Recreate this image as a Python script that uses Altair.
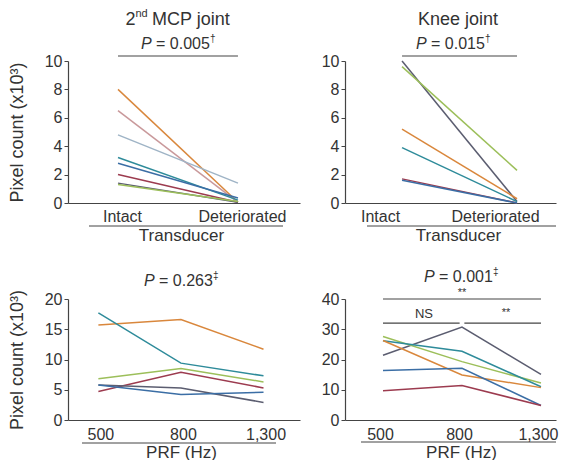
import altair as alt
import pandas as pd

FONT = "Liberation Sans"
TXT = "#333333"
AX = "#444444"

series = ["orange", "mauve", "lightblue", "teal", "blue", "maroon", "darkgray", "green"]
series_colors = ["#d9873c", "#c9999b", "#9fb4c6", "#2e8b9a", "#3b6ea5", "#9c3b4f", "#5b5d70", "#9cbf5a"]

# ---- Top-left: 2nd MCP joint (x10^3) ----
tl_labels = ["Intact", "Deteriorated"]
tl_orange = [8.0, 0.05]
tl_mauve = [6.5, 0.05]
tl_lightblue = [4.8, 1.4]
tl_teal = [3.2, 0.2]
tl_blue = [2.8, 0.35]
tl_maroon = [2.0, 0.05]
tl_darkgray = [1.4, 0.05]
tl_green = [1.3, 0.1]

# ---- Top-right: Knee joint ----
tr_labels = ["Intact", "Deteriorated"]
tr_darkgray = [10.0, 0.1]
tr_green = [9.6, 2.3]
tr_orange = [5.2, 0.3]
tr_teal = [3.9, 0.1]
tr_maroon = [1.7, 0.0]
tr_blue = [1.6, 0.0]

# ---- Bottom-left: PRF, MCP ----
bl_labels = ["500", "800", "1,300"]
bl_orange = [15.7, 16.6, 11.7]
bl_teal = [17.7, 9.4, 7.3]
bl_green = [6.8, 8.5, 6.3]
bl_maroon = [4.7, 7.9, 5.3]
bl_darkgray = [5.8, 5.3, 2.9]
bl_blue = [5.8, 4.2, 4.6]

# ---- Bottom-right: PRF, knee ----
br_labels = ["500", "800", "1,300"]
br_darkgray = [21.4, 30.7, 15.1]
br_green = [27.6, 19.3, 12.2]
br_teal = [26.2, 22.7, 11.0]
br_orange = [26.3, 14.9, 10.7]
br_blue = [16.4, 17.1, 4.8]
br_maroon = [9.7, 11.4, 4.8]

# significance brackets in bottom-right (x index from, x index to, y value)
br_sig_x1 = [0.0, 0.0, 1.03]
br_sig_x2 = [2.0, 0.97, 2.0]
br_sig_y = [40.0, 32.0, 32.0]


def long_df(d):
    rows = []
    for name, vals in d.items():
        for i, v in enumerate(vals):
            rows.append({"series": name, "idx": i, "value": v})
    return pd.DataFrame(rows)


def one():
    return pd.DataFrame({"k": [0]})


def txt(x, y, s, size=16, style="normal", align="center", color=TXT):
    return alt.Chart(one()).mark_text(
        text=s, font=FONT, fontSize=size, fontStyle=style, align=align,
        baseline="middle", color=color
    ).encode(x=alt.value(x), y=alt.value(y))


def ptext(cx, cy, val, mark):
    start = cx - 37
    return [
        txt(start, cy, "P", 16, "italic", "left"),
        txt(start + 15, cy, "= " + val, 16, "normal", "left"),
        txt(start + 69, cy - 5, mark, 10, "normal", "left"),
    ]


def underline(x1, x2, y):
    return alt.Chart(one()).mark_rule(color=AX, strokeWidth=1).encode(
        x=alt.value(x1), x2=alt.value(x2), y=alt.value(y))


def panel(df, labels, xdom, ydom, yticks, w, h, xtitle, title_x, ytitle,
          label_offset, label_pad, title_pad, extra, sig_df=None, sig_px=None):
    labexpr = "[" + ",".join("'" + l + "'" for l in labels) + "][datum.value]"
    xenc = alt.X("idx:Q", scale=alt.Scale(domain=xdom, nice=False, zero=False),
                 axis=alt.Axis(values=list(range(len(labels))), labelExpr=labexpr,
                               ticks=False, grid=False, title=xtitle, titleX=title_x,
                               titleAlign="center", labelOffset=label_offset,
                               labelPadding=label_pad, titlePadding=title_pad,
                               labelFontSize=16, titleFontSize=17, labelOverlap=False))
    if ytitle:
        yaxis = alt.Axis(values=yticks, grid=False, tickSize=4, labelPadding=2,
                         labelFontSize=16, titleFontSize=18, titlePadding=18,
                         title=ytitle, labelOverlap=False)
    else:
        yaxis = alt.Axis(values=yticks, grid=False, tickSize=4, labelPadding=2,
                         labelFontSize=16, title=None, labelOverlap=False)
    yenc = alt.Y("value:Q", scale=alt.Scale(domain=ydom, nice=False), axis=yaxis)
    lines = alt.Chart(df).mark_line(strokeWidth=1.5, clip=False).encode(
        x=xenc, y=yenc,
        color=alt.Color("series:N", scale=alt.Scale(domain=series, range=series_colors), legend=None),
        detail="series:N",
    )
    layers = [lines]
    if sig_df is not None:
        if sig_px is None:
            layers.append(alt.Chart(sig_df).mark_rule(color=AX, strokeWidth=1.2).encode(
                x=xenc, x2="idx2", y=yenc))
        else:
            layers.append(alt.Chart(sig_df).mark_rule(color=AX, strokeWidth=1.2).encode(
                x=xenc, x2="idx2", y=alt.value(sig_px)))
    return alt.layer(*layers, *extra).properties(width=w, height=h)


tl_df = long_df({"orange": tl_orange, "mauve": tl_mauve, "lightblue": tl_lightblue, "teal": tl_teal,
                 "blue": tl_blue, "maroon": tl_maroon, "darkgray": tl_darkgray, "green": tl_green})
tr_df = long_df({"darkgray": tr_darkgray, "green": tr_green, "orange": tr_orange, "teal": tr_teal,
                 "maroon": tr_maroon, "blue": tr_blue})
bl_df = long_df({"orange": bl_orange, "teal": bl_teal, "green": bl_green, "maroon": bl_maroon,
                 "darkgray": bl_darkgray, "blue": bl_blue})
br_df = long_df({"darkgray": br_darkgray, "green": br_green, "teal": br_teal, "orange": br_orange,
                 "blue": br_blue, "maroon": br_maroon})

LW = 232
RW = 211
TH = 142
BH = 121

tl_xdom = [-0.4167, 1.517]
tr_xdom = [-0.496, 1.339]
bl_xdom = [-0.368, 2.442]
br_xdom = [-0.481, 2.190]

top_sig = pd.DataFrame({"idx": [0], "idx2": [1]})
br_sig_df = pd.DataFrame({"idx": br_sig_x1, "idx2": br_sig_x2, "value": br_sig_y})

tl_extra = [
    underline(21, 215, 165),
    txt(57.5, -41, "2", 18, align="left"),
    txt(67.5, -47, "nd", 11, align="left"),
    txt(84, -41, "MCP joint", 18, align="left"),
] + ptext(110, -17, "0.005", "\u2020")

tr_extra = [
    underline(22, 211, 165),
    txt(113, -41, "Knee joint", 18),
] + ptext(108, -17, "0.015", "\u2020")

bl_extra = [
    underline(14, 208, 144),
] + ptext(113, -18, "0.263", "\u2021")

br_extra = [
    underline(16, 211, 143),
    txt(117, -6, "**", 11),
    txt(79, 15, "NS", 13),
    txt(161, 14, "**", 11),
] + ptext(116, -22, "0.001", "\u2021")

tl = panel(tl_df, tl_labels, tl_xdom, [0, 10], [0, 2, 4, 6, 8, 10], LW, TH, "Transducer", 113,
           "Pixel count (x10\u00b3)", 4, 5, 3, tl_extra, top_sig, -5)
tr = panel(tr_df, tr_labels, tr_xdom, [0, 10], [0, 2, 4, 6, 8, 10], RW, TH, "Transducer", 113,
           None, -22, 5, 3, tr_extra, top_sig, -5)
bl = panel(bl_df, bl_labels, bl_xdom, [0, 20], [0, 5, 10, 15, 20], LW, BH, "PRF (Hz)", 113,
           "Pixel count (x10\u00b3)", 2, 6, 2, bl_extra)
br = panel(br_df, br_labels, br_xdom, [0, 40], [0, 10, 20, 30, 40], RW, BH, "PRF (Hz)", 116,
           None, -3, 6, 2, br_extra, br_sig_df, None)

chart = alt.concat(tl, tr, bl, br, columns=2, spacing={"row": 96, "column": 45},
                   bounds="flush").properties(
    padding={"left": 0, "top": 0, "right": 0, "bottom": 0}
).configure_view(stroke=None).configure_axis(
    domainColor=AX, tickColor=AX, labelColor=TXT, titleColor=TXT,
    labelFont=FONT, titleFont=FONT, titleFontWeight="normal", domainWidth=1.2
)

chart.save("out.html", embed_options={"renderer": "svg", "actions": False})
